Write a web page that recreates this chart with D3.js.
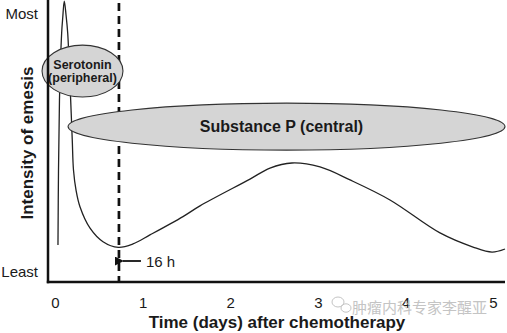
<!DOCTYPE html>
<html>
<head>
<meta charset="utf-8">
<script src="https://cdn.jsdelivr.net/npm/d3@7"></script>
<style>
html,body{margin:0;padding:0;background:#fff;}
svg{display:block;}
</style>
</head>
<body>
<svg id="chart" width="507" height="333"></svg>
<script>
// ---- data ----
const timeDays = [0.034,0.040,0.051,0.076,0.088,0.106,0.126,0.145,0.160,0.179,0.197,0.211,0.240,0.285,0.400,0.548,0.723,0.890,1.084,1.461,1.655,2.226,2.454,2.705,3.025,3.368,3.824,4.395,4.772,4.989,5.137];
const intensity = [13.1,39.7,64.5,88.3,93.6,99.6,94.7,88.3,78.7,64.5,50.4,39.7,32.6,26.7,19.1,14.3,12.3,13.5,16.7,23.2,27.0,36.5,40.4,42.2,40.8,36.2,29.1,17.4,12.4,10.6,11.7];
const xTicks = [0,1,2,3,4,5];
const yTickLabels = ["Least","Most"];
const markerDay = 0.73;           // dashed line (16 h)
const markerLabel = "16 h";
const ellipseLabels = [["Serotonin","(peripheral)"],["Substance P (central)"]];
const ellipseCx = [0.314, 2.643];
const ellipseCy = [74.8, 55.1];
const ellipseRx = [0.462, 2.494];
const ellipseRy = [9.2, 8.33];
const xTitle = "Time (days) after chemotherapy";
const yTitle = "Intensity of emesis";
const watermark = "肿瘤内科专家李醒亚";

// ---- layout ----
const svg = d3.select("#chart");
const axisLeftX = 48, axisBottomY = 282, axisRightX = 505;
const x = d3.scaleLinear().domain([0,5]).range([55,493]);
const y = d3.scaleLinear().domain([0,100]).range([282,0]);
const font = "'Liberation Sans', Arial, Helvetica, sans-serif";
const ink = "#1a1a1a";

// curve
const pts = timeDays.map((d,i)=>[d,intensity[i]]);
const line = d3.line().x(d=>x(d[0])).y(d=>y(d[1])).curve(d3.curveCatmullRom.alpha(0.5));
svg.append("path").attr("d", line(pts)).attr("fill","none")
  .attr("stroke","#222").attr("stroke-width",1.3);

// dashed marker
svg.append("line").attr("x1",x(markerDay)).attr("x2",x(markerDay))
  .attr("y1",3).attr("y2",axisBottomY)
  .attr("stroke","#111").attr("stroke-width",2.7).attr("stroke-dasharray","8,5");

// arrow + label
svg.append("defs").append("marker").attr("id","ah").attr("viewBox","0 0 10 10")
  .attr("refX",1).attr("refY",5).attr("markerWidth",5).attr("markerHeight",5)
  .attr("orient","auto-start-reverse")
  .append("path").attr("d","M0,5 L10,0 L10,10 Z").attr("fill","#111");
svg.append("line").attr("x1",x(markerDay)+4).attr("x2",x(markerDay)+22)
  .attr("y1",261).attr("y2",261).attr("stroke","#111").attr("stroke-width",1.8)
  .attr("marker-start","url(#ah)");
svg.append("text").attr("x",x(markerDay)+27).attr("y",267)
  .attr("font-family",font).attr("font-size",15).attr("fill",ink).text(markerLabel);

// ellipses
ellipseLabels.forEach((lab,i)=>{
  const cx = x(ellipseCx[i]), cy = y(ellipseCy[i]);
  const rx = x(ellipseRx[i]) - x(0), ry = y(0) - y(ellipseRy[i]);
  svg.append("ellipse").attr("cx",cx).attr("cy",cy).attr("rx",rx).attr("ry",ry)
    .attr("fill","#d5d5d5").attr("stroke","#333").attr("stroke-width",1.1);
  const fs = lab.length > 1 ? 12.5 : 16;
  const lh = 13.5;
  lab.forEach((t,j)=>{
    svg.append("text").attr("x", i===1 ? cx-5 : cx)
      .attr("y", cy + (j - (lab.length-1)/2)*lh + fs*0.36)
      .attr("text-anchor","middle").attr("font-family",font).attr("font-weight","bold")
      .attr("font-size",fs).attr("fill",ink).text(t);
  });
});

// axes
svg.append("line").attr("x1",axisLeftX).attr("x2",axisLeftX).attr("y1",0).attr("y2",axisBottomY+1.2)
  .attr("stroke","#111").attr("stroke-width",2.5);
svg.append("line").attr("x1",axisLeftX-1.2).attr("x2",axisRightX).attr("y1",axisBottomY).attr("y2",axisBottomY)
  .attr("stroke","#111").attr("stroke-width",2.5);

const xAxis = d3.axisBottom(x).tickValues(xTicks).tickSize(0).tickPadding(0).tickFormat(d3.format("d"));
const gx = svg.append("g").attr("transform",`translate(0,${axisBottomY})`).call(xAxis);
gx.select(".domain").remove();
gx.selectAll("text").attr("font-family",font).attr("font-size",15).attr("fill",ink)
  .attr("dy",null).attr("y",26);

// y labels
svg.append("text").attr("x",38).attr("y",277).attr("text-anchor","end")
  .attr("font-family",font).attr("font-size",15).attr("fill",ink).text(yTickLabels[0]);
svg.append("text").attr("x",38).attr("y",19).attr("text-anchor","end")
  .attr("font-family",font).attr("font-size",15).attr("fill",ink).text(yTickLabels[1]);

// titles
svg.append("text").attr("x",277).attr("y",328).attr("text-anchor","middle")
  .attr("font-family",font).attr("font-weight","bold").attr("font-size",17).attr("fill",ink).text(xTitle);
svg.append("text").attr("transform","translate(33,143) rotate(-90)").attr("text-anchor","middle")
  .attr("font-family",font).attr("font-weight","bold").attr("font-size",17).attr("fill",ink).text(yTitle);

// watermark
const wm = svg.append("g").attr("fill","none").attr("stroke","#c4c4c4").attr("stroke-width",1);
wm.append("ellipse").attr("cx",338).attr("cy",302).attr("rx",6).attr("ry",5);
wm.append("ellipse").attr("cx",346).attr("cy",308).attr("rx",5).attr("ry",4.2);
svg.append("text").attr("x",352).attr("y",313).attr("font-family","'Noto Sans CJK SC', sans-serif")
  .attr("font-size",15).attr("fill","#c4c4c4").text(watermark);
</script>
</body>
</html>
